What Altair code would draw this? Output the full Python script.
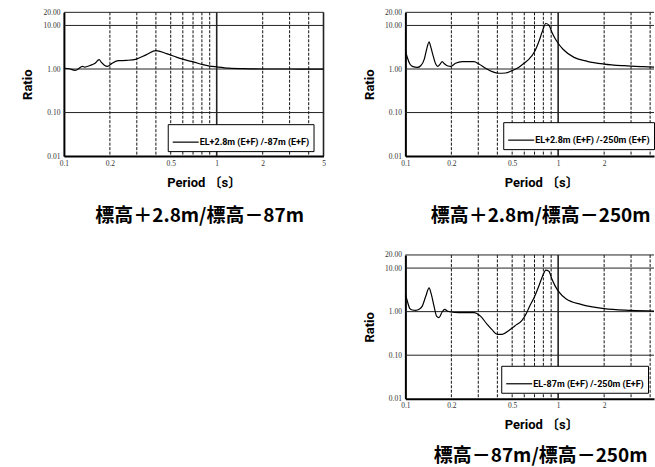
import altair as alt
import pandas as pd

# Spectral ratio curves: period [s] vs amplitude ratio
p1_period = [0.100, 0.110, 0.118, 0.124, 0.132, 0.137, 0.148, 0.159, 0.170, 0.176,
             0.185, 0.193, 0.205, 0.226, 0.257, 0.298, 0.347, 0.400, 0.470, 0.550,
             0.640, 0.720, 0.800, 0.900, 1.000, 1.200, 1.500, 2.000, 3.000, 4.000, 5.000]
p1_ratio = [1.04, 1.00, 0.93, 1.00, 1.15, 1.11, 1.20, 1.33, 1.64, 1.42,
            1.20, 1.15, 1.33, 1.55, 1.58, 1.69, 2.14, 2.65, 2.25, 1.85,
            1.58, 1.42, 1.28, 1.17, 1.12, 1.05, 1.02, 1.00, 1.00, 0.99, 0.99]

p2_period = [0.100, 0.103, 0.107, 0.111, 0.120, 0.126, 0.133, 0.137, 0.143, 0.146,
             0.152, 0.158, 0.163, 0.169, 0.174, 0.181, 0.188, 0.198, 0.213, 0.236,
             0.281, 0.303, 0.335, 0.370, 0.410, 0.452, 0.500, 0.550, 0.600, 0.645,
             0.700, 0.750, 0.790, 0.830, 0.870, 0.910, 0.955, 1.000, 1.080, 1.270,
             1.550, 2.000, 2.700, 3.600, 5.000]
p2_ratio = [2.70, 1.84, 1.30, 1.15, 1.09, 1.19, 1.69, 2.62, 4.20, 3.40,
            2.00, 1.30, 1.15, 1.30, 1.47, 1.30, 1.19, 1.15, 1.35, 1.47,
            1.47, 1.30, 1.04, 0.87, 0.80, 0.81, 0.92, 1.08, 1.37, 1.69,
            2.48, 4.40, 7.50, 11.10, 10.20, 7.00, 5.00, 3.90, 2.80, 1.85,
            1.50, 1.30, 1.19, 1.13, 1.08]

p3_period = [0.100, 0.103, 0.107, 0.111, 0.117, 0.123, 0.129, 0.136, 0.143, 0.147,
             0.154, 0.160, 0.166, 0.174, 0.181, 0.188, 0.198, 0.224, 0.281, 0.310,
             0.343, 0.370, 0.400, 0.430, 0.476, 0.520, 0.580, 0.620, 0.645, 0.700,
             0.750, 0.790, 0.830, 0.870, 0.910, 0.955, 1.000, 1.130, 1.410, 2.000,
             3.000, 5.000]
p3_ratio = [2.56, 1.74, 1.17, 1.09, 1.07, 1.13, 1.34, 2.26, 3.50, 2.70,
            1.34, 0.79, 0.73, 0.98, 1.13, 1.03, 0.98, 0.95, 0.95, 0.79,
            0.51, 0.38, 0.30, 0.30, 0.37, 0.47, 0.63, 0.92, 1.25, 2.20,
            4.00, 6.50, 9.00, 8.50, 5.60, 3.90, 3.00, 1.95, 1.47, 1.17,
            1.07, 1.02]

series_labels = ["EL+2.8m (E+F) /-87m (E+F)",
                 "EL+2.8m (E+F) /-250m (E+F)",
                 "EL-87m (E+F) /-250m (E+F)"]
captions = ["標高＋2.8m/標高－87m",
            "標高＋2.8m/標高－250m",
            "標高－87m/標高－250m"]

x_ticks_full = [0.1, 0.2, 0.5, 1, 2, 5]
x_ticks_right = [0.1, 0.2, 0.5, 1, 2]
y_ticks = [0.01, 0.1, 1, 10, 20]
h_grid = [0.1, 1, 10]
v_dashed = [0.2, 0.3, 0.4, 0.5, 0.6, 0.7, 0.8, 0.9, 2, 3, 4]
v_solid = [1]
y_top = [20]

SANS = "Roboto, Noto Sans CJK JP"
CJK = "Noto Sans CJK JP"


def panel(period, ratio, label, caption, leg_x, leg_y, width, x_max, x_ticks,
          frame_right, title_x, caption_dx, caption_offset):
    xs = alt.Scale(type="log", domain=[0.1, x_max])
    ys = alt.Scale(type="log", domain=[0.01, 20])
    xax = alt.Axis(values=x_ticks, format="~g", title="Period 〔s〕",
                   titleX=title_x, titleAlign="center")
    yax = alt.Axis(values=y_ticks, format=".2f", title="Ratio")

    df = pd.DataFrame({"period": period, "ratio": ratio, "series": label})

    dashed = alt.Chart(pd.DataFrame({"period": v_dashed})).mark_rule(
        color="#111", strokeWidth=1, strokeDash=[3, 1.5]
    ).encode(x=alt.X("period:Q", scale=xs, axis=xax))
    solid = alt.Chart(pd.DataFrame({"period": v_solid + frame_right})).mark_rule(
        color="#222", strokeWidth=1.6
    ).encode(x=alt.X("period:Q", scale=xs, axis=xax))
    hlines = alt.Chart(pd.DataFrame({"ratio": h_grid + y_top})).mark_rule(
        color="#222", strokeWidth=1
    ).encode(y=alt.Y("ratio:Q", scale=ys, axis=yax))
    curve = alt.Chart(df).mark_line(interpolate="monotone", strokeWidth=1.2, clip=True).encode(
        x=alt.X("period:Q", scale=xs, axis=xax),
        y=alt.Y("ratio:Q", scale=ys, axis=yax),
        color=alt.Color(
            "series:N",
            scale=alt.Scale(range=["black"]),
            legend=alt.Legend(
                orient="none", legendX=leg_x, legendY=leg_y, title=None,
                strokeColor="black", fillColor="white", padding=4, cornerRadius=0,
                symbolType="stroke", symbolSize=676, symbolStrokeWidth=1.2,
                labelFont=SANS, labelFontSize=9, labelFontWeight="bold",
                labelColor="black", labelOffset=0,
            ),
        ),
    )
    return alt.layer(dashed, solid, hlines, curve).properties(
        width=width, height=144,
        title=alt.TitleParams(caption, orient="bottom", anchor="middle", font=CJK,
                              fontSize=19, fontWeight="bold", color="black",
                              offset=caption_offset, dx=caption_dx),
    )


p1 = panel(p1_period, p1_ratio, series_labels[0], captions[0], 104, 112,
           260, 5, x_ticks_full, [5], 140, 6, 18)
# right-hand panels run off the page edge, so their axis ends near 4.24 s
p2 = panel(p2_period, p2_ratio, series_labels[1], captions[1], 98, 110,
           249, 4.24, x_ticks_right, [], 136, 11, 18)
p3 = panel(p3_period, p3_ratio, series_labels[2], captions[2], 96, 111,
           249, 4.24, x_ticks_right, [], 136, 11, 15)

right = alt.vconcat(p2, p3, spacing=25).resolve_scale(color="independent").resolve_legend(color="independent")
chart = alt.hconcat(p1, right, spacing=38).resolve_scale(color="independent").resolve_legend(color="independent")

chart = chart.properties(
    padding={"left": 22, "top": 8, "right": 0, "bottom": 0},
    background="white",
).configure_view(
    stroke=None
).configure_axis(
    labelFont="Liberation Serif", labelFontSize=7.5, labelColor="#333",
    ticks=False, grid=False, domainColor="black", domainWidth=2,
    labelFlush=False, labelOverlap=False,
    titleFont=SANS, titleFontSize=13, titleFontWeight="bold", titleColor="black",
).configure_axisX(
    labelPadding=3, titleY=26, titleBaseline="middle"
).configure_axisY(
    labelPadding=4, titleX=-36, titleY=72, titleAngle=270,
    titleAlign="center", titleBaseline="middle"
)

chart.save("out.html", embed_options={"renderer": "svg", "actions": False})
